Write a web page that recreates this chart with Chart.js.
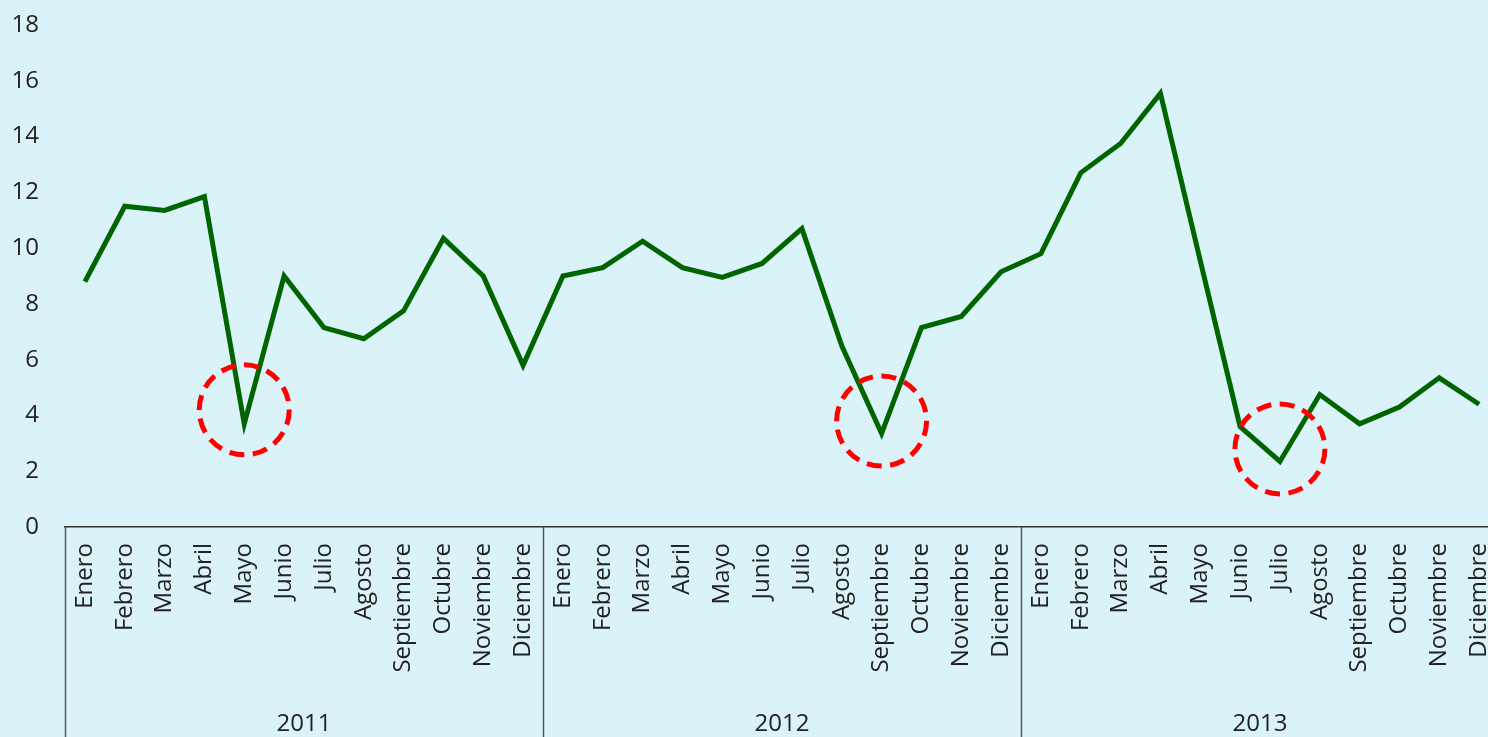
<!DOCTYPE html>
<html>
<head>
<meta charset="utf-8">
<script src="https://cdn.jsdelivr.net/npm/chart.js@4/dist/chart.umd.min.js"></script>
<style>
	html, body { margin: 0; padding: 0; overflow: hidden; background: #daf3f8; }
	#wrap { width: 1500px; height: 737px; position: relative; }
</style>
</head>
<body>
<div id="wrap"><canvas id="chart"></canvas></div>
<script>
var months = ['Enero', 'Febrero', 'Marzo', 'Abril', 'Mayo', 'Junio', 'Julio', 'Agosto', 'Septiembre', 'Octubre', 'Noviembre', 'Diciembre'];
var years = ['2011', '2012', '2013'];
var values2011 = [8.8, 11.5, 11.35, 11.85, 3.7, 9.0, 7.15, 6.75, 7.75, 10.35, 9.0, 5.8];
var values2012 = [9.0, 9.3, 10.25, 9.3, 8.95, 9.45, 10.7, 6.5, 3.35, 7.15, 7.55, 9.15];
var values2013 = [9.8, 12.7, 13.75, 15.55, 9.55, 3.6, 2.35, 4.75, 3.7, 4.3, 5.35, 4.4];
// index into the month list and y value of each dashed circle
var highlights = [
	{ i: 4, y: 4.2 },
	{ i: 20, y: 3.8 },
	{ i: 30, y: 2.8 }
];

var labels = [];
years.forEach(function() { labels = labels.concat(months); });
var values = values2011.concat(values2012, values2013);

var font = { family: 'Open Sans', size: 24 };
var textColor = '#222';

var yearBoxes = {
	id: 'yearBoxes',
	afterDraw: function(chart) {
		var ctx = chart.ctx;
		var xs = chart.scales.x;
		ctx.save();
		ctx.strokeStyle = '#555';
		ctx.lineWidth = 1.5;
		for (var k = 0; k <= years.length; k++) {
			var px = Math.round(xs.getPixelForValue(k * months.length - 0.5)) + 0.5;
			ctx.beginPath();
			ctx.moveTo(px, xs.top);
			ctx.lineTo(px, chart.height);
			ctx.stroke();
		}
		ctx.restore();
	}
};

var circles = {
	id: 'circles',
	afterDatasetsDraw: function(chart) {
		var ctx = chart.ctx;
		var xs = chart.scales.x;
		var ys = chart.scales.y;
		ctx.save();
		ctx.strokeStyle = '#ff0000';
		ctx.lineWidth = 5;
		ctx.setLineDash([15, 8.5]);
		highlights.forEach(function(h) {
			ctx.beginPath();
			ctx.arc(xs.getPixelForValue(h.i), ys.getPixelForValue(h.y), 45, 0, Math.PI * 2);
			ctx.stroke();
		});
		ctx.restore();
	}
};

new Chart(document.getElementById('chart'), {
	type: 'line',
	data: {
		labels: labels,
		datasets: [{
			data: values,
			borderColor: '#006400',
			borderWidth: 5,
			pointRadius: 0,
			tension: 0,
			fill: false
		}]
	},
	options: {
		responsive: true,
		maintainAspectRatio: false,
		animation: false,
		layout: { padding: { left: 0, top: 25, right: 1, bottom: 0 } },
		plugins: { legend: { display: false }, tooltip: { enabled: false } },
		scales: {
			x: {
				offset: true,
				grid: { display: false, drawTicks: false },
				border: { display: true, color: '#333', width: 1.5 },
				ticks: {
					autoSkip: false,
					minRotation: 90,
					maxRotation: 90,
					padding: 16,
					color: textColor,
					font: font
				},
				afterFit: function(s) { s.height = 170; s.paddingLeft = 0; s.paddingRight = 0; }
			},
			x2: {
				type: 'category',
				position: 'bottom',
				labels: years,
				offset: true,
				grid: { display: false, drawTicks: false },
				border: { display: false },
				ticks: { padding: 13, color: textColor, font: font },
				afterFit: function(s) { s.height = 40; s.paddingLeft = 0; s.paddingRight = 0; }
			},
			y: {
				min: 0,
				max: 18,
				grid: { display: false, drawTicks: false },
				border: { display: false },
				ticks: { stepSize: 2, padding: 26, color: textColor, font: font },
				afterFit: function(s) { s.width = 65; s.paddingTop = 0; s.paddingBottom = 0; }
			}
		}
	},
	plugins: [yearBoxes, circles]
});
</script>
</body>
</html>
